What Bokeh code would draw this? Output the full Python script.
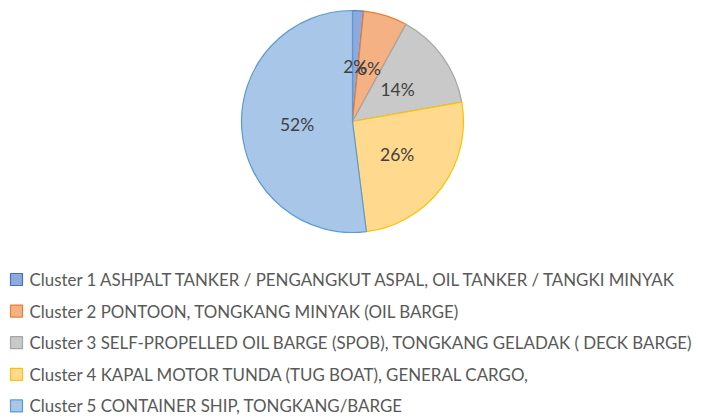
import numpy as np
from bokeh.plotting import figure
from bokeh.models import Range1d, ColumnDataSource
from bokeh.core.properties import value
from bokeh.embed import file_html
from bokeh.resources import INLINE

# ---- data ----
clusters = [
    "Cluster 1 ASHPALT TANKER / PENGANGKUT ASPAL, OIL TANKER / TANGKI MINYAK",
    "Cluster 2 PONTOON, TONGKANG MINYAK (OIL BARGE)",
    "Cluster 3 SELF-PROPELLED OIL BARGE (SPOB), TONGKANG GELADAK ( DECK BARGE)",
    "Cluster 4 KAPAL MOTOR TUNDA (TUG BOAT), GENERAL CARGO,",
    "Cluster 5 CONTAINER SHIP, TONGKANG/BARGE",
]
shares = [1.6, 6.4, 14.2, 25.8, 52.0]
pct_labels = ["2%", "6%", "14%", "26%", "52%"]
fills = ["#8EA9DB", "#F4B183", "#C9C9C9", "#FFD98E", "#A7C6E8"]
lines = ["#4472C4", "#ED7D31", "#A5A5A5", "#FFC000", "#5B9BD5"]

W, H = 708, 420
p = figure(width=W, height=H, output_backend="svg", toolbar_location=None,
           x_range=Range1d(0, W), y_range=Range1d(0, H),
           min_border=0, background_fill_color="white", border_fill_color="white")
p.axis.visible = False
p.xgrid.visible = False
p.ygrid.visible = False
p.outline_line_color = None

# pie geometry (pixel layout, y measured from top)
cx, cy_top, r = 352, 121, 111
cy = H - cy_top

vals = np.array(shares, dtype=float)
frac = vals / vals.sum()
cum = np.concatenate([[0], np.cumsum(frac)])
start = np.pi / 2 - 2 * np.pi * cum[:-1]
end = np.pi / 2 - 2 * np.pi * cum[1:]
mid = (start + end) / 2

src = ColumnDataSource(dict(start=start, end=end, fill=fills, line=lines))
p.wedge(x=cx, y=cy, radius=r, start_angle="start", end_angle="end",
        direction="clock", fill_color="fill", line_color="line",
        line_width=1.2, source=src)

lr = 0.5 * r
lsrc = ColumnDataSource(dict(x=cx + lr * np.cos(mid), y=cy + lr * np.sin(mid), t=pct_labels))
p.text(x="x", y="y", text="t", source=lsrc, text_font=value("Lato"),
       text_font_size="17.5px", text_color="#404040",
       text_align="center", text_baseline="middle")

# legend
row0, step = 279, 31.6
ys = [H - (row0 + step * i) for i in range(len(clusters))]
p.rect(x=[16] * len(clusters), y=ys, width=12, height=12,
       width_units="screen", height_units="screen",
       fill_color=fills, line_color=lines, line_width=1.2)
p.text(x=[29] * len(clusters), y=ys, text=clusters, text_font=value("Lato"),
       text_font_size="16.9px", text_color="#595959",
       text_align="left", text_baseline="middle")

open("out.html", "w").write(file_html(p, INLINE))
